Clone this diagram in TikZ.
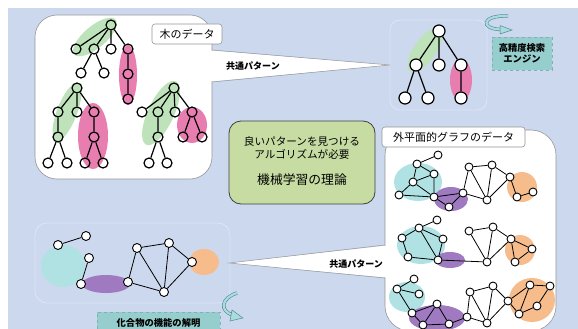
\documentclass[tikz,border=0pt]{standalone}
\usepackage{fontspec}
\setmainfont{Noto Sans CJK JP}
\usetikzlibrary{arrows.meta}
\definecolor{bgblue}{RGB}{204,216,238}
\definecolor{tgreen}{RGB}{190,226,186}
\definecolor{tpink}{RGB}{232,126,176}
\definecolor{gcyan}{RGB}{176,226,228}
\definecolor{gpurple}{RGB}{160,122,192}
\definecolor{gorange}{RGB}{246,188,140}
\definecolor{teallbl}{RGB}{150,206,206}
\definecolor{boxgreen}{RGB}{198,220,162}
\definecolor{boxline}{RGB}{150,150,150}
\definecolor{faintline}{RGB}{222,230,244}
\definecolor{swirl}{RGB}{170,220,222}
\definecolor{swirldark}{RGB}{80,140,150}
\tikzset{
  tn/.style={circle, draw, line width=1.2pt, minimum size=10pt, inner sep=0pt},
  sn/.style={circle, draw, fill=white, line width=1.2pt, minimum size=12pt, inner sep=0pt},
  gn/.style={circle, draw, fill=white, line width=0.9pt, minimum size=8pt, inner sep=0pt},
  mn/.style={gn, minimum size=9pt},
  tedge/.style={line width=1.2pt},
  gedge/.style={line width=0.8pt},
  lbl/.style={draw=boxline, fill=white, rounded corners=3pt, line width=0.6pt, inner sep=0pt, font=\fontsize{11}{13}\selectfont},
  teallabel/.style={fill=teallbl, draw=swirldark!70, dashed, line width=0.4pt, inner sep=0pt, font=\bfseries\fontsize{9.3}{10.5}\selectfont, align=center},
  calltext/.style={font=\bfseries\fontsize{9}{10}\selectfont, inner sep=0pt},
  callout/.style={fill=white},
  calledge/.style={draw=boxline, line width=0.5pt},
  faintbox/.style={draw=faintline, line width=0.8pt, rounded corners=12pt},
}
\begin{document}
\begin{tikzpicture}[x=1pt,y=-1pt]
\useasboundingbox (0,0) rectangle (578,329);
\clip (0,0) rectangle (578,329);
% background
\fill[white] (0,0) rectangle (578,329);
\fill[bgblue] (8,8) rectangle (578,329);

% ---------- faint boxes ----------
\draw[faintbox, rounded corners=10pt] (390,20) rectangle (487,110);
\draw[faintbox] (35,223) rectangle (230,303);

% ---------- tree box ----------
\draw[draw=boxline, line width=0.6pt, fill=white, rounded corners=22pt] (35,15) rectangle (212,179);
\fill[callout] (205,50) -- (390,65) -- (205,82) -- cycle;
\draw[calledge] (212,50) -- (390,65) -- (212,82);
\node[calltext] (cp1) at (253,66) {共通パターン};

% blobs of trees
\fill[tgreen, rotate around={40:(95,37)}] (95,37) ellipse (27 and 11);
\fill[tpink] (128,75) ellipse (9 and 30);
\fill[tgreen, rotate around={69:(67,112)}] (67,112) ellipse (31 and 10);
\fill[tpink] (93,136) ellipse (15 and 33);
\fill[tgreen, rotate around={65:(161,113)}] (161,113) ellipse (35 and 13);
\fill[tpink] (192,125) ellipse (15 and 18);

% tree 1
\node[tn] (t1r) at (111,25) {};
\node[tn] (t1a) at (76,49) {};
\node[tn] (t1b) at (94,49) {};
\node[tn] (t1c) at (111,49) {};
\node[tn] (t1d) at (128,49) {};
\node[tn] (t1b1) at (81,73) {};
\node[tn] (t1b2) at (104,73) {};
\node[tn] (t1d1) at (128,74) {};
\node[tn] (t1d2) at (128,99) {};
\draw[tedge] (t1r)--(t1a) (t1r)--(t1b) (t1r)--(t1c) (t1r)--(t1d)
  (t1b)--(t1b1) (t1b)--(t1b2) (t1d)--(t1d1) (t1d1)--(t1d2);
% tree 2
\node[tn] (t2r) at (77,88) {};
\node[tn] (t2a) at (58,112) {};
\node[tn] (t2b) at (77,112) {};
\node[tn] (t2c) at (94,112) {};
\node[tn] (t2a1) at (58,137) {};
\node[tn] (t2a11) at (48,163) {};
\node[tn] (t2a12) at (67,163) {};
\node[tn] (t2c1) at (94,137) {};
\node[tn] (t2c11) at (85,163) {};
\node[tn] (t2c12) at (103,163) {};
\draw[tedge] (t2r)--(t2a) (t2r)--(t2b) (t2r)--(t2c) (t2a)--(t2a1)
  (t2a1)--(t2a11) (t2a1)--(t2a12) (t2c)--(t2c1) (t2c1)--(t2c11) (t2c1)--(t2c12);
% tree 3
\node[tn] (t3r) at (174,88) {};
\node[tn] (t3a) at (142,112) {};
\node[tn] (t3b) at (158,112) {};
\node[tn] (t3c) at (175,112) {};
\node[tn] (t3d) at (192,112) {};
\node[tn] (t3b1) at (158,137) {};
\node[tn] (t3b11) at (149,163) {};
\node[tn] (t3b12) at (167,163) {};
\node[tn] (t3d1) at (183,137) {};
\node[tn] (t3d2) at (202,137) {};
\draw[tedge] (t3r)--(t3a) (t3r)--(t3b) (t3r)--(t3c) (t3r)--(t3d)
  (t3b)--(t3b1) (t3b1)--(t3b11) (t3b1)--(t3b12) (t3d)--(t3d1) (t3d)--(t3d2);

\node[lbl, minimum width=70pt, minimum height=20pt] (treelbl) at (187,34) {木のデータ};

% ---------- small tree top right ----------
\fill[tgreen, rotate around={55:(425,50)}] (425,50) ellipse (26 and 11);
\fill[tpink] (461,80) ellipse (11 and 21);
\node[sn] (srr) at (439,31) {};
\node[sn] (sa) at (416,65) {};
\node[sn] (sb) at (439,65) {};
\node[sn] (sc) at (461,65) {};
\node[sn] (sa1) at (405,98) {};
\node[sn] (sa2) at (428,98) {};
\node[sn] (sc1) at (461,98) {};
\draw[tedge] (srr)--(sa) (srr)--(sb) (srr)--(sc) (sa)--(sa1) (sa)--(sa2) (sc)--(sc1);

% swirl top
\draw[line width=3.4pt, swirldark] (508,16) .. controls (481,15) and (480,29) .. (501,29.5);
\draw[line width=2.2pt, swirl] (508,16) .. controls (481,15) and (480,29) .. (501,29.5);
\filldraw[fill=swirl, draw=swirldark, line width=0.5pt] (500,25.5) -- (512,30) -- (500,34) -- cycle;

\node[teallabel, minimum width=60pt, minimum height=33pt] (engine) at (522,53.5) {高精度検索\\エンジン};

% ---------- center green box ----------
\draw[fill=boxgreen, draw=black!75, line width=0.8pt, rounded corners=12pt] (229,121) rectangle (375,204);
\node[font=\fontsize{10.6}{12.5}\selectfont, align=center, inner sep=0pt] (algo) at (302,148) {良いパターンを見つける\\アルゴリズムが必要};
\node[font=\fontsize{12.8}{14}\selectfont, inner sep=0pt] (ml) at (302,180) {機械学習の理論};

% ---------- outerplanar box ----------
\draw[draw=boxline, line width=0.6pt, fill=white, rounded corners=25pt] (385,130) rectangle (556,331);
\fill[callout] (229,263) -- (392,245) -- (392,278) -- cycle;
\draw[calledge] (385,245) -- (229,263) -- (385,278);
\node[calltext, anchor=east] (cp2) at (383,264) {共通パターン};

% graph 1
\fill[gcyan] (418,182) ellipse (24 and 19);
\fill[gpurple] (451,199) ellipse (17 and 12);
\fill[gorange] (522,187) ellipse (15 and 15);
\node[gn] (p1) at (438,155) {};
\node[gn] (p2) at (417,164) {};
\node[gn] (p3) at (434,174) {};
\node[gn] (p4) at (413,182) {};
\node[gn] (p5) at (399,195) {};
\node[gn] (p6) at (434,197) {};
\node[gn] (p7) at (449,207) {};
\node[gn] (p8) at (463,193) {};
\node[gn] (p9) at (469,167) {};
\node[gn] (p10) at (492,165) {};
\node[gn] (p11) at (487,200) {};
\node[gn] (p12) at (510,177) {};
\node[gn] (p13) at (517,197) {};
\node[gn] (p14) at (533,192) {};
\draw[gedge] (p1)--(p2) (p2)--(p3) (p2)--(p4) (p3)--(p4) (p4)--(p5) (p5)--(p6)
  (p4)--(p6) (p3)--(p6) (p6)--(p7) (p7)--(p8) (p6)--(p8) (p8)--(p9) (p9)--(p10)
  (p9)--(p11) (p8)--(p11) (p10)--(p11) (p10)--(p12) (p11)--(p12) (p12)--(p13) (p13)--(p14);

% graph 2
\fill[gcyan] (421,245) ellipse (24 and 19);
\fill[gpurple] (450,260) ellipse (15 and 8);
\fill[gorange] (520,250) ellipse (15 and 15);
\node[gn] (q1) at (437,220) {};
\node[gn] (q2) at (419,228) {};
\node[gn] (q3) at (402,238) {};
\node[gn] (q4) at (443,239) {};
\node[gn] (q5) at (408,257) {};
\node[gn] (q6) at (438,260) {};
\node[gn] (q7) at (469,231) {};
\node[gn] (q8) at (493,227) {};
\node[gn] (q9) at (511,239) {};
\node[gn] (q10) at (532,249) {};
\node[gn] (q11) at (487,262) {};
\node[gn] (q12) at (515,262) {};
\draw[gedge] (q1)--(q2) (q2)--(q3) (q3)--(q5) (q2)--(q4) (q2)--(q6) (q4)--(q6)
  (q5)--(q6) (q6)--(q11) (q7)--(q8) (q7)--(q11) (q8)--(q11) (q8)--(q9)
  (q9)--(q11) (q9)--(q10) (q9)--(q12) (q10)--(q12);

% graph 3
\fill[gcyan] (407,297) ellipse (18 and 15);
\fill[gpurple] (437,318) ellipse (28 and 13);
\fill[gorange] (532,300) ellipse (23 and 22);
\node[gn] (r1) at (414,279) {};
\node[gn] (r2) at (397,289) {};
\node[gn] (r3) at (419,294) {};
\node[gn] (r4) at (412,313) {};
\node[gn] (r5) at (437,304) {};
\node[gn] (r6) at (423,325) {};
\node[gn] (r7) at (449,324) {};
\node[gn] (r8) at (467,317) {};
\node[gn] (r9) at (470,292) {};
\node[gn] (r10) at (493,286) {};
\node[gn] (r11) at (487,323) {};
\node[gn] (r12) at (508,301) {};
\node[gn] (r13) at (530,285) {};
\node[gn] (r14) at (550,286) {};
\node[gn] (r15) at (537,306) {};
\node[gn] (r16) at (519,314) {};
\draw[gedge] (r1)--(r2) (r2)--(r3) (r2)--(r4) (r4)--(r5) (r4)--(r6) (r5)--(r6)
  (r5)--(r7) (r6)--(r7) (r7)--(r8) (r8)--(r9) (r9)--(r10) (r9)--(r11) (r8)--(r11)
  (r10)--(r11) (r10)--(r12) (r11)--(r12) (r12)--(r16) (r12)--(r13) (r13)--(r14)
  (r13)--(r16) (r14)--(r15) (r15)--(r16);

\node[lbl, minimum width=143pt, minimum height=20pt] (oplbl) at (453.5,137) {外平面的グラフのデータ};

% ---------- molecule bottom left ----------
\fill[gcyan] (63,266) ellipse (22 and 21);
\fill[gpurple] (106,284) ellipse (24 and 9);
\fill[gorange] (204,262) ellipse (15 and 13);
\node[mn] (m1) at (58,245) {};
\node[mn] (m2) at (86,236) {};
\node[mn] (m3) at (89,258) {};
\node[mn] (m4) at (81,284) {};
\node[mn] (m5) at (128,282) {};
\node[mn] (m6) at (137,248) {};
\node[mn] (m7) at (169,243) {};
\node[mn] (m8) at (192,262) {};
\node[mn] (m9) at (164,292) {};
\draw[gedge] (m1)--(m2) (m3)--(m4) (m5)--(m6) (m5)--(m9) (m6)--(m7) (m6)--(m9)
  (m7)--(m9) (m7)--(m8) (m8)--(m9);

% swirl bottom
\draw[line width=3.4pt, swirldark] (237,293) .. controls (221,298) and (219,311) .. (233,315);
\draw[line width=2.2pt, swirl] (237,293) .. controls (221,298) and (219,311) .. (233,315);
\filldraw[fill=swirl, draw=swirldark, line width=0.5pt] (232,310) -- (243,318) -- (230,321) -- cycle;

\node[fill=teallbl, draw=swirldark!70, dashed, line width=0.4pt, minimum width=123pt, minimum height=28pt] (funcbox) at (158.5,326) {};
\node[calltext, font=\bfseries\fontsize{9.3}{10}\selectfont] (func) at (158.5,323) {化合物の機能の解明};
\end{tikzpicture}
\end{document}
